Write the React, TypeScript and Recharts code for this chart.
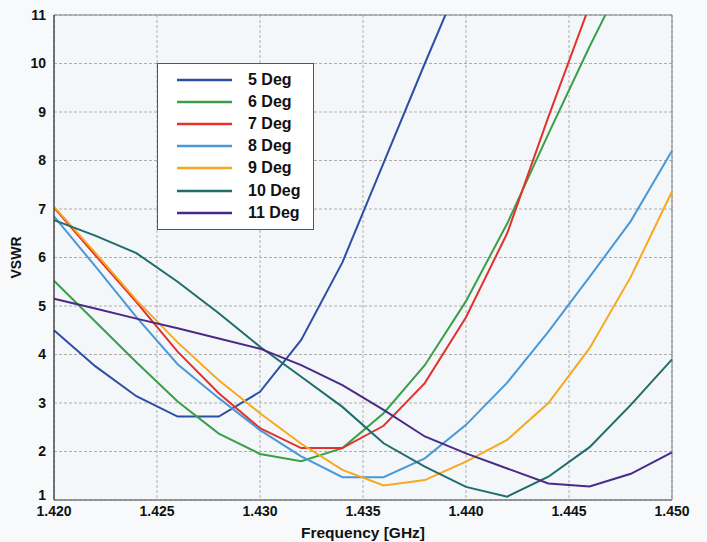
import { CartesianGrid, Legend, Line, LineChart, ReferenceArea, XAxis, YAxis } from "recharts";

// Frequency sweep in GHz, one point every 2 MHz.
const FREQ = [1.42, 1.422, 1.424, 1.426, 1.428, 1.43, 1.432, 1.434, 1.436, 1.438, 1.44, 1.442, 1.444, 1.446, 1.448, 1.45];

// VSWR per tilt angle (null where the curve has left the plot).
const DEG5 = [4.5, 3.76, 3.14, 2.72, 2.72, 3.23, 4.3, 5.9, 7.95, 10.0, 12.0, null, null, null, null, null];
const DEG6 = [5.52, 4.68, 3.84, 3.03, 2.37, 1.95, 1.8, 2.07, 2.79, 3.78, 5.1, 6.7, 8.55, 10.35, 12.05, null];
const DEG7 = [7.03, 6.05, 5.08, 4.06, 3.2, 2.48, 2.07, 2.07, 2.53, 3.41, 4.77, 6.5, 8.9, 11.2, null, null];
const DEG8 = [6.85, 5.82, 4.77, 3.8, 3.1, 2.44, 1.9, 1.47, 1.47, 1.86, 2.55, 3.42, 4.47, 5.6, 6.75, 8.2];
const DEG9 = [7.05, 6.1, 5.12, 4.25, 3.47, 2.79, 2.16, 1.62, 1.3, 1.41, 1.79, 2.24, 3.0, 4.13, 5.6, 7.36];
const DEG10 = [6.77, 6.45, 6.09, 5.5, 4.85, 4.16, 3.54, 2.92, 2.17, 1.69, 1.27, 1.07, 1.48, 2.09, 2.96, 3.9];
const DEG11 = [5.15, 4.95, 4.74, 4.54, 4.33, 4.12, 3.78, 3.37, 2.86, 2.31, 1.96, 1.65, 1.34, 1.28, 1.54, 1.98];

const X_TICKS = [1.42, 1.425, 1.43, 1.435, 1.44, 1.445, 1.45];
const Y_TICKS = [1, 2, 3, 4, 5, 6, 7, 8, 9, 10, 11];

const SERIES = [
  { key: "d5", name: "5 Deg", color: "#2c4fa3", values: DEG5 },
  { key: "d6", name: "6 Deg", color: "#3b9e48", values: DEG6 },
  { key: "d7", name: "7 Deg", color: "#e2322b", values: DEG7 },
  { key: "d8", name: "8 Deg", color: "#4a98d6", values: DEG8 },
  { key: "d9", name: "9 Deg", color: "#f6a91e", values: DEG9 },
  { key: "d10", name: "10 Deg", color: "#1f6d6b", values: DEG10 },
  { key: "d11", name: "11 Deg", color: "#4a2a86", values: DEG11 },
];

const rows = FREQ.map((f, i) => {
  const row: Record<string, number | null> = { freq: f };
  SERIES.forEach((s) => {
    row[s.key] = s.values[i];
  });
  return row;
});

const FONT = '"Liberation Sans", Arial, sans-serif';
const tickStyle = { fill: "#111", fontSize: 14, fontWeight: 700, fontFamily: FONT };

// The bottom "1" sits a little higher than the grid line, clear of the x labels.
function YTick({ x, y, payload }: any) {
  const lift = payload.value === 1 ? -5 : 0;
  return (
    <text x={x} y={y + lift} dy="0.355em" textAnchor="end" {...tickStyle}>
      {payload.value}
    </text>
  );
}

function LegendBox({ payload }: any) {
  // keep the series order instead of recharts' alphabetical sort
  const items = [...(payload ?? [])].sort(
    (a: any, b: any) =>
      SERIES.findIndex((s) => s.name === a.value) - SERIES.findIndex((s) => s.name === b.value),
  );
  return (
    <div
      style={{
        boxSizing: "border-box",
        height: 167,
        paddingTop: 5,
        border: "1px solid #555",
        background: "#fff",
        fontFamily: FONT,
        fontWeight: 700,
        fontSize: 16,
        color: "#111",
      }}
    >
      {items.map((entry: any) => (
        <div key={entry.value} style={{ display: "flex", alignItems: "center", height: 22.1 }}>
          <svg width={90} height={6} style={{ flex: "none" }}>
            <line x1={19} x2={74} y1={3} y2={3} stroke={entry.color} strokeWidth={2.5} />
          </svg>
          <span>{entry.value}</span>
        </div>
      ))}
    </div>
  );
}

export default function App() {
  return (
    <div style={{ position: "absolute", left: 0, top: 0, width: 707, height: 542, background: "#f7f9fb" }}>
      <LineChart width={707} height={542} data={rows} margin={{ top: 15, right: 35, bottom: 0, left: 0 }}>
        <CartesianGrid fill="#f3f7fa" stroke="#b3aca8" strokeDasharray="3 2" />
        <XAxis
          dataKey="freq"
          type="number"
          domain={[1.42, 1.45]}
          ticks={X_TICKS}
          tickFormatter={(v: number) => v.toFixed(3)}
          tick={tickStyle}
          tickLine={false}
          tickSize={0}
          tickMargin={6}
          axisLine={{ stroke: "#777" }}
          height={42}
          label={{
            value: "Frequency [GHz]",
            position: "insideBottom",
            offset: 4,
            style: { fill: "#111", fontSize: 15.5, fontWeight: 700, fontFamily: FONT },
          }}
        />
        <YAxis
          type="number"
          domain={[1, 11]}
          ticks={Y_TICKS}
          allowDataOverflow
          tick={<YTick />}
          tickLine={false}
          axisLine={{ stroke: "#333" }}
          width={54}
          label={{
            value: "VSWR",
            angle: -90,
            position: "insideLeft",
            offset: 16,
            style: { textAnchor: "middle", fill: "#111", fontSize: 14, fontWeight: 700, fontFamily: FONT },
          }}
        />
        <ReferenceArea x1={1.42} x2={1.45} y1={1} y2={11} fill="none" stroke="#808080" strokeWidth={1} />
        {SERIES.map((s) => (
          <Line
            key={s.key}
            dataKey={s.key}
            name={s.name}
            type="linear"
            stroke={s.color}
            strokeWidth={2}
            dot={false}
            activeDot={false}
            isAnimationActive={false}
          />
        ))}
        <Legend
          layout="vertical"
          align="center"
          verticalAlign="middle"
          content={<LegendBox />}
          wrapperStyle={{ left: 157, top: 63, width: 157, height: 167 }}
        />
      </LineChart>
    </div>
  );
}
